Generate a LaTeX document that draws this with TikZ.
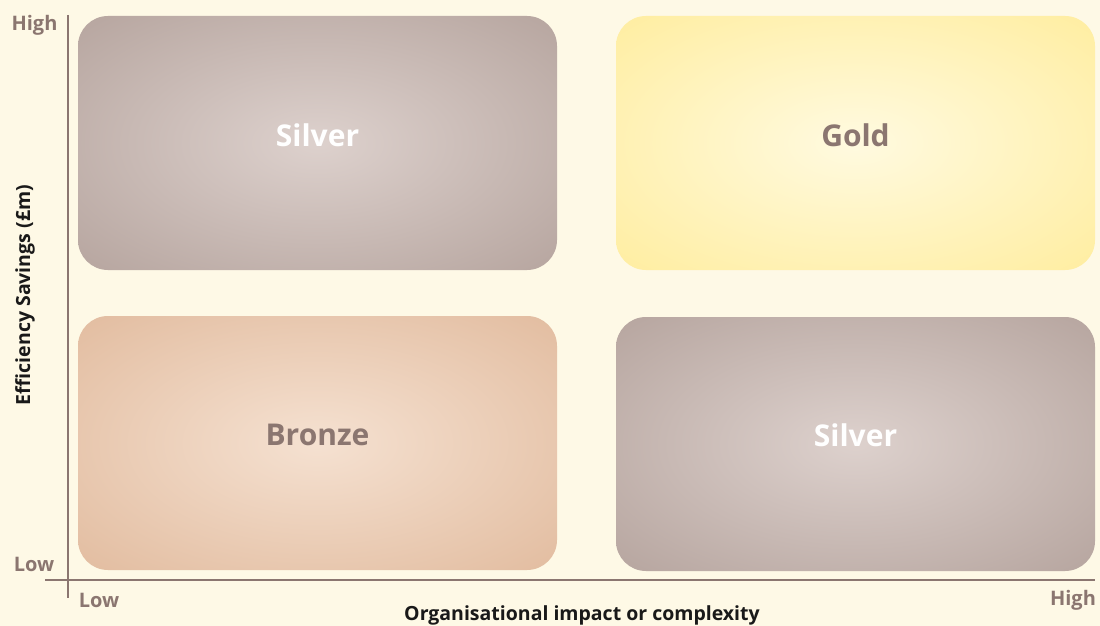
\documentclass[tikz,border=0pt]{standalone}
\usepackage{fontspec}
\setmainfont{Open Sans}
\usetikzlibrary{positioning}

\definecolor{bg}{HTML}{FEF9E6}
\definecolor{axisc}{HTML}{8B7670}
\definecolor{silverin}{HTML}{DDD1CD}
\definecolor{silverout}{HTML}{B8A7A1}
\definecolor{goldin}{HTML}{FFFAE0}
\definecolor{goldout}{HTML}{FFEEA3}
\definecolor{bronzein}{HTML}{F5E1D1}
\definecolor{bronzeout}{HTML}{E3BEA2}

\pgfdeclareradialshading{silvershade}{\pgfpoint{0bp}{0bp}}{color(0bp)=(silverin); color(34bp)=(silverout); color(50bp)=(silverout)}
\pgfdeclareradialshading{goldshade}{\pgfpoint{0bp}{0bp}}{color(0bp)=(goldin); color(34bp)=(goldout); color(50bp)=(goldout)}
\pgfdeclareradialshading{bronzeshade}{\pgfpoint{0bp}{0bp}}{color(0bp)=(bronzein); color(34bp)=(bronzeout); color(50bp)=(bronzeout)}

\tikzset{
  tier/.style={rounded corners=30pt, minimum width=479pt, minimum height=254pt, inner sep=0pt},
  tiertext/.style={font=\bfseries\fontsize{30}{32}\selectfont},
  axislabel/.style={font=\bfseries\fontsize{20}{22}\selectfont, text=axisc},
  axistitle/.style={font=\bfseries\fontsize{19.5}{21}\selectfont, text=black!90}
}

\begin{document}
\begin{tikzpicture}[x=1pt,y=-1pt]
\fill[bg] (0,0) rectangle (1100,626);
\useasboundingbox (0,0) rectangle (1100,626);

\node[tier, shading=silvershade] (silverA) at (317.5,143) {};
\node[tier, shading=goldshade] (gold) at (855.5,143) {};
\node[tier, shading=bronzeshade] (bronze) at (317.5,443) {};
\node[tier, shading=silvershade] (silverB) at (855.5,444) {};

\node[tiertext, text=white] (silverAtext) at (317.5,135) {Silver};
\node[tiertext, text=axisc] (goldtext) at (855.5,135) {Gold};
\node[tiertext, text=axisc] (bronzetext) at (317.5,435) {Bronze};
\node[tiertext, text=white] (silverBtext) at (855.5,435) {Silver};

\coordinate (ytop) at (68,15);
\coordinate (ybot) at (68,598);
\coordinate (xleft) at (45,580);
\coordinate (xright) at (1095,580);
\draw[axisc, line width=2.5pt] (ytop) -- (ybot);
\draw[axisc, line width=2.5pt] (xleft) -- (xright);

\node[axislabel] (yhigh) at (34.5,25) {High};
\node[axislabel] (ylow) at (34,564) {Low};
\node[axislabel] (xlow) at (99,600) {Low};
\node[axislabel] (xhigh) at (1073,600) {High};

\node[axistitle, rotate=90] (ytitle) at (25,295) {Efficiency Savings (£m)};
\node[axistitle] (xtitle) at (582,615) {Organisational impact or complexity};
\end{tikzpicture}
\end{document}
